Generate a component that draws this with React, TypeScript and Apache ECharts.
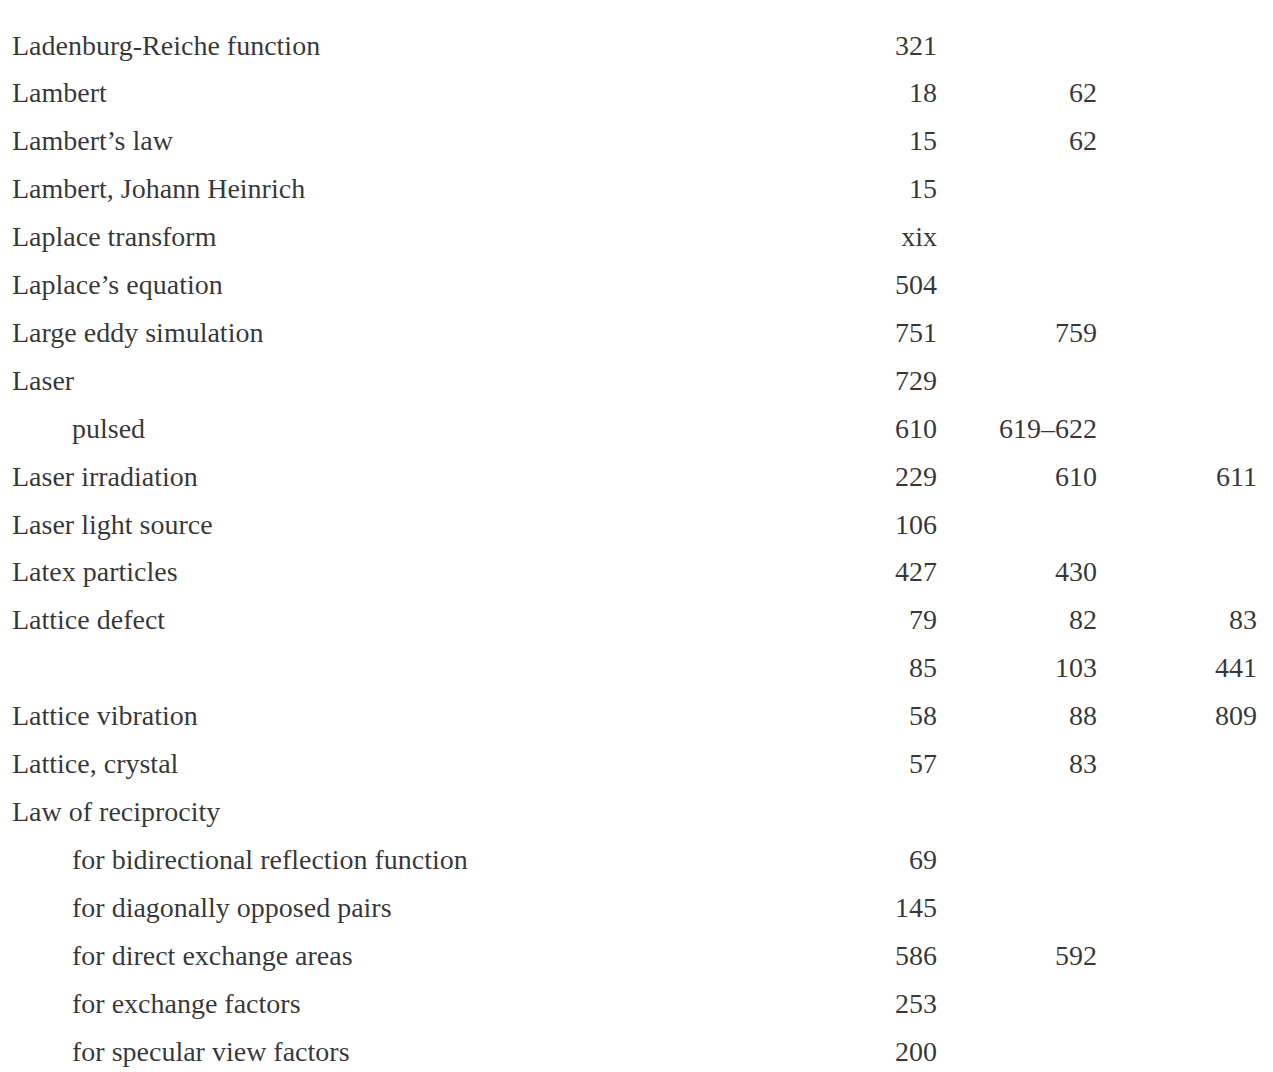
import React, { useEffect, useRef } from "react";
import * as echarts from "echarts";

const terms = [
  "Ladenburg-Reiche function",
  "Lambert",
  "Lambert’s law",
  "Lambert, Johann Heinrich",
  "Laplace transform",
  "Laplace’s equation",
  "Large eddy simulation",
  "Laser",
  "pulsed",
  "Laser irradiation",
  "Laser light source",
  "Latex particles",
  "Lattice defect",
  "",
  "Lattice vibration",
  "Lattice, crystal",
  "Law of reciprocity",
  "for bidirectional reflection function",
  "for diagonally opposed pairs",
  "for direct exchange areas",
  "for exchange factors",
  "for specular view factors",
];
const indentLevels = [0, 0, 0, 0, 0, 0, 0, 0, 1, 0, 0, 0, 0, 0, 0, 0, 0, 1, 1, 1, 1, 1];
const pages1 = ["321", "18", "15", "15", "xix", "504", "751", "729", "610", "229", "106", "427", "79", "85", "58", "57", "", "69", "145", "586", "253", "200"];
const pages2 = ["", "62", "62", "", "", "", "759", "", "619–622", "610", "", "430", "82", "103", "88", "83", "", "", "", "592", "", ""];
const pages3 = ["", "", "", "", "", "", "", "", "", "611", "", "", "83", "441", "809", "", "", "", "", "", "", ""];

const FONT = "'Liberation Serif', 'Times New Roman', serif";
const FS = 28;

export default function App() {
  const ref = useRef<HTMLDivElement>(null);
  useEffect(() => {
    if (!ref.current) return;
    const chart = echarts.init(ref.current, null, { renderer: "svg" });
    const termData = terms.map((t, i) => ({ value: [0, i], name: t, indent: indentLevels[i] }));
    const pageSeries = [pages1, pages2, pages3].map((col, c) => ({
      type: "scatter",
      symbolSize: 0,
      silent: true,
      clip: false,
      data: col
        .map((p, i) => ({ value: [c + 1, i], name: p }))
        .filter((d) => d.name !== ""),
      label: {
        show: true,
        position: "inside",
        formatter: (p: any) => p.name,
        align: "right",
        verticalAlign: "middle",
        color: "#000",
        fontFamily: FONT,
        fontSize: FS,
      },
    }));
    chart.setOption({
      animation: false,
      backgroundColor: "#fff",
      grid: { left: 777, right: 16, top: 45, bottom: 21 },
      xAxis: { type: "value", min: 0, max: 3, show: false },
      yAxis: { type: "value", min: 0, max: terms.length - 1, inverse: true, show: false },
      series: [
        {
          type: "scatter",
          symbolSize: 0,
          silent: true,
          clip: false,
          data: termData.map((d) => ({
            value: d.value,
            name: d.name,
            label: { offset: [-765 + d.indent * 60, 0] },
          })),
          label: {
            show: true,
            position: "inside",
            formatter: (p: any) => p.name,
            align: "left",
            verticalAlign: "middle",
            color: "#000",
            fontFamily: FONT,
            fontSize: FS,
          },
        },
        ...pageSeries,
      ],
    });
    return () => chart.dispose();
  }, []);
  return (
    <div
      ref={ref}
      style={{ position: "fixed", left: 0, top: 0, width: 1273, height: 1072, background: "#fff" }}
    />
  );
}
